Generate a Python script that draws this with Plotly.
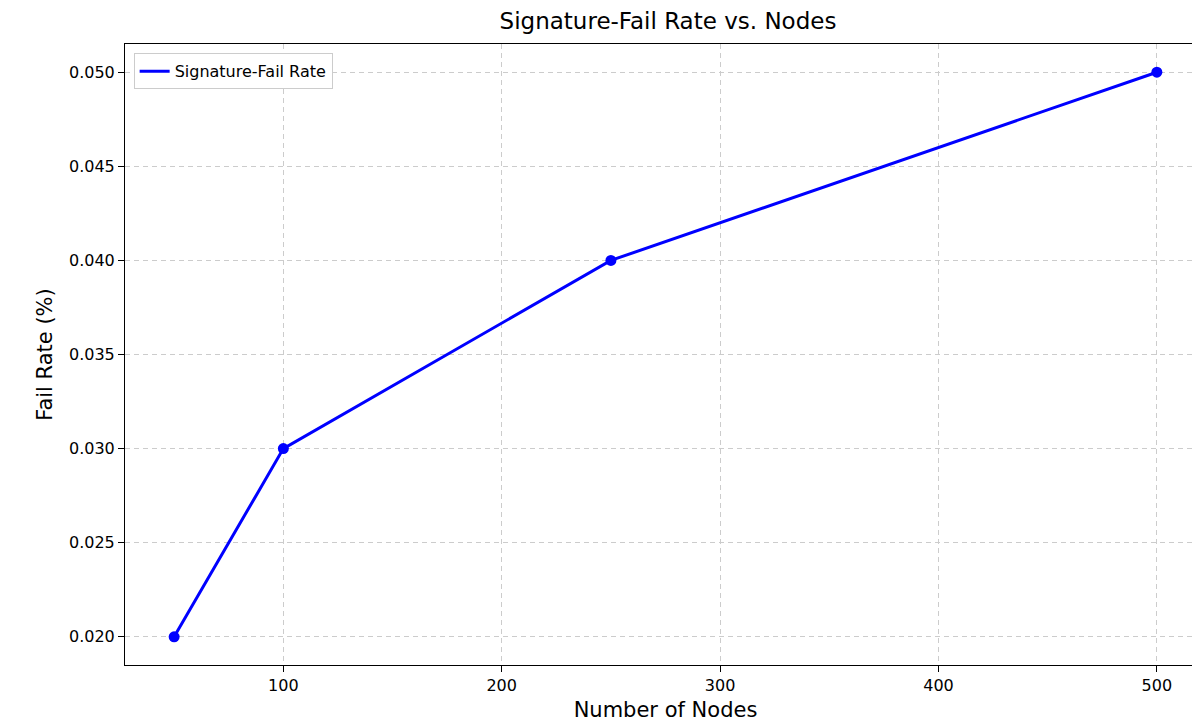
import plotly.graph_objects as go

nodes = [50, 100, 250, 500]
fail_rate = [0.020, 0.030, 0.040, 0.050]
y_ticks = [0.020, 0.025, 0.030, 0.035, 0.040, 0.045, 0.050]
x_ticks = [100, 200, 300, 400, 500]

fig = go.Figure()
fig.add_trace(go.Scatter(
    x=nodes, y=fail_rate, mode='lines+markers', name='Signature-Fail Rate',
    line=dict(color='blue', width=3),
    marker=dict(color='blue', size=11),
    showlegend=False,
))
# legend entry shows only the line, like the original
fig.add_trace(go.Scatter(
    x=[None], y=[None], mode='lines', name='Signature-Fail Rate',
    line=dict(color='blue', width=3),
))

axis_style = dict(
    showgrid=True, gridcolor='#cccccc', griddash='5px,4px', gridwidth=1,
    showline=True, linecolor='black', linewidth=1, mirror=True,
    ticks='outside', ticklen=6, tickcolor='black',
    tickfont=dict(size=16, color='black'), zeroline=False, automargin=False,
)

fig.update_layout(
    width=1200, height=723,
    margin=dict(l=117, r=2, t=36, b=66),
    paper_bgcolor='white', plot_bgcolor='white',
    font=dict(family='DejaVu Sans', color='black'),
    title=dict(text='Signature-Fail Rate vs. Nodes', x=0.55, xanchor='center',
               y=0.982, yanchor='middle', font=dict(size=23), automargin=False),
    xaxis=dict(axis_style, range=[27.5, 522.5], tickvals=x_ticks,
               title=dict(text='Number of Nodes', font=dict(size=21), standoff=8)),
    yaxis=dict(axis_style, range=[0.0185, 0.0515], tickvals=y_ticks, tickformat='.3f',
               title=dict(text='Fail Rate (%)', font=dict(size=21), standoff=10)),
    showlegend=True,
    legend=dict(x=0.008, y=0.985, xanchor='left', yanchor='top',
                bordercolor='#cccccc', borderwidth=1, bgcolor='white',
                font=dict(size=16)),
)

fig.write_html("out.html")
